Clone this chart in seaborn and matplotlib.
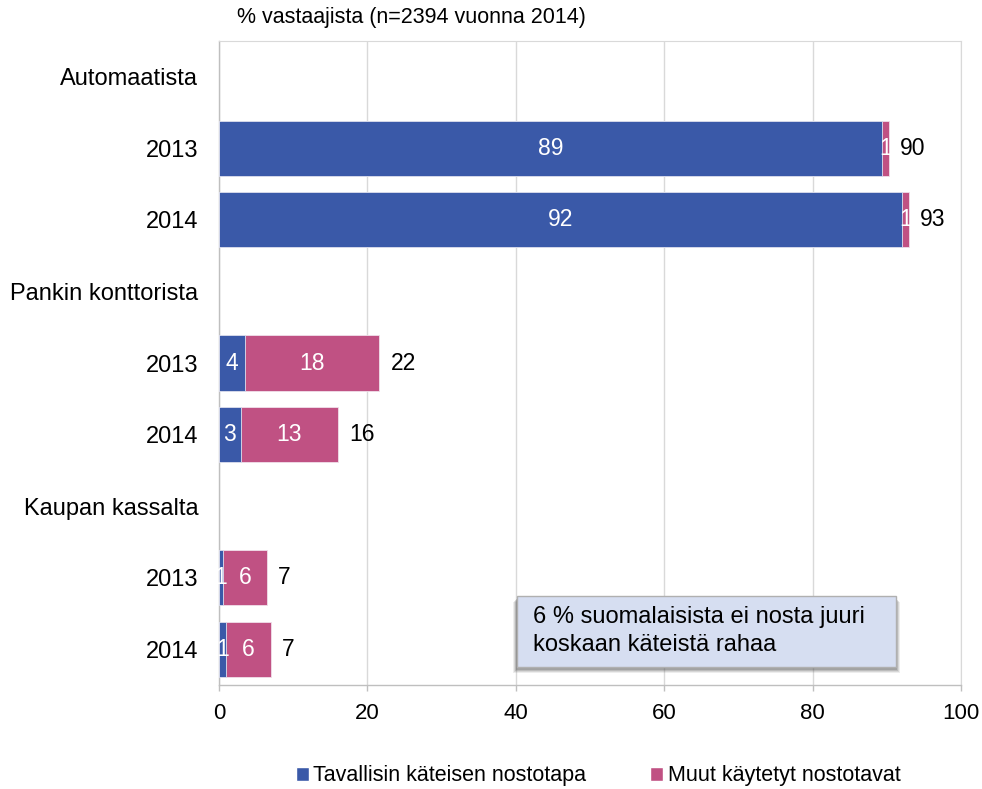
import seaborn as sns
import numpy as np
import pandas as pd
import matplotlib.pyplot as plt
from matplotlib.patches import Patch, Rectangle

# data
groups = ["Automaatista", "Pankin konttorista", "Kaupan kassalta"]
years = ["2013", "2014"]
usual = [89.3, 92.0, 3.5, 2.9, 0.5, 0.9]       # Tavallisin käteisen nostotapa
other = [1.0, 1.0, 18.1, 13.1, 6.0, 6.1]       # Muut käytetyt nostotavat
usual_lbl = [89, 92, 4, 3, 1, 1]
other_lbl = [1, 1, 18, 13, 6, 6]
total_lbl = [90, 93, 22, 16, 7, 7]
x_ticks = [0, 20, 40, 60, 80, 100]

title = "% vastaajista (n=2394 vuonna 2014)"
note = "6 % suomalaisista ei nosta juuri\nkoskaan käteistä rahaa"
legend_names = ["Tavallisin käteisen nostotapa", "Muut käytetyt nostotavat"]

BLUE = "#3A59A8"
PINK = "#C05183"
GRID = "#D9D9D9"
AXIS = "#BFBFBF"

sns.set_style("white")
plt.rcParams["font.family"] = ["Liberation Sans", "DejaVu Sans"]
plt.rcParams["text.color"] = "black"
plt.rcParams["xtick.labelcolor"] = "black"
plt.rcParams["ytick.labelcolor"] = "black"
FS = 15.5      # title, legend
FS_LAB = 17    # category labels, note
FS_VAL = 16.5  # value labels

# rows: group header followed by its years
row_labels = []
bar_pos = []
for g in groups:
    row_labels.append(g)
    for y in years:
        bar_pos.append(len(row_labels))
        row_labels.append(y)

df = pd.DataFrame({"pos": bar_pos, "usual": usual, "other": other})
df["total"] = df["usual"] + df["other"]

fig = plt.figure(figsize=(9.82, 7.89), dpi=100)
ax = fig.add_axes([219 / 982, 1 - 685 / 789, (961 - 219) / 982, (685 - 41) / 789])

sns.barplot(data=df, x="total", y="pos", orient="h", native_scale=True, color=PINK,
            saturation=1, width=0.77, edgecolor="#f0e0ea", linewidth=0.6, ax=ax, zorder=3)
sns.barplot(data=df, x="usual", y="pos", orient="h", native_scale=True, color=BLUE,
            saturation=1, width=0.77, edgecolor="#dfe3f0", linewidth=0.6, ax=ax, zorder=4)

for p, u, o, t, ul, ol, tl in zip(df["pos"], df["usual"], df["other"], df["total"],
                                  usual_lbl, other_lbl, total_lbl):
    ax.text(u / 2, p, str(ul), color="white", ha="center", va="center", fontsize=FS_VAL, zorder=5)
    ax.text(u + o / 2, p, str(ol), color="white", ha="center", va="center", fontsize=FS_VAL, zorder=5)
    ax.annotate(str(tl), (t, p), xytext=(8, 0), textcoords="offset points",
                ha="left", va="center", fontsize=FS_VAL, color="black")

ax.set_xlim(0, 100)
ax.set_ylim(len(row_labels) - 0.5, -0.5)
ax.set_xticks(x_ticks)
ax.set_xticklabels([str(v) for v in x_ticks], fontsize=16)
ax.set_yticks(range(len(row_labels)))
ax.set_yticklabels(row_labels, fontsize=FS_LAB)
ax.set_yticks(np.arange(-0.5, len(row_labels), 1.0), minor=True)
ax.set_xlabel("")
ax.set_ylabel("")

ax.grid(axis="x", color=GRID, linewidth=1, zorder=0)
ax.set_axisbelow(True)
ax.tick_params(axis="y", which="major", length=0, pad=15)
ax.tick_params(axis="y", which="minor", length=5, color=AXIS, width=1)
ax.tick_params(axis="x", length=4, color=AXIS, width=1, pad=9, bottom=True)
for side in ["left", "bottom"]:
    ax.spines[side].set_color(AXIS)
    ax.spines[side].set_linewidth(1)
ax.spines["top"].set_color(GRID)
ax.spines["right"].set_color(GRID)

fig.text(237 / 982, 1 - 18 / 789, title, fontsize=FS, ha="left", va="center")

# note box with a soft shadow (a few translucent layers)
x0, y0, w, h = 517 / 982, 1 - 667 / 789, 379 / 982, 71 / 789
for k, a in [(4, 0.10), (3, 0.15), (2, 0.2), (1, 0.25)]:
    fig.add_artist(Rectangle((x0 - k / 982, y0 - (k + 2) / 789), w + (2 * k) / 982, h,
                             transform=fig.transFigure, facecolor="#555555",
                             edgecolor="none", alpha=a, zorder=5))
fig.add_artist(Rectangle((x0, y0), w, h, transform=fig.transFigure,
                         facecolor="#D6DEF1", edgecolor="#B0B0B0", linewidth=1, zorder=6))
fig.text(533 / 982, 1 - 631 / 789, note, fontsize=FS_LAB, ha="left", va="center",
         linespacing=1.32, zorder=7)

handles = [Patch(facecolor=BLUE), Patch(facecolor=PINK)]
fig.legend(handles, legend_names, loc="center", bbox_to_anchor=(598 / 982, 13 / 789),
           ncol=2, frameon=False, fontsize=FS, handlelength=0.6, handleheight=0.6,
           handletextpad=0.2, columnspacing=3.0)

plt.savefig("out.png", dpi=100)
